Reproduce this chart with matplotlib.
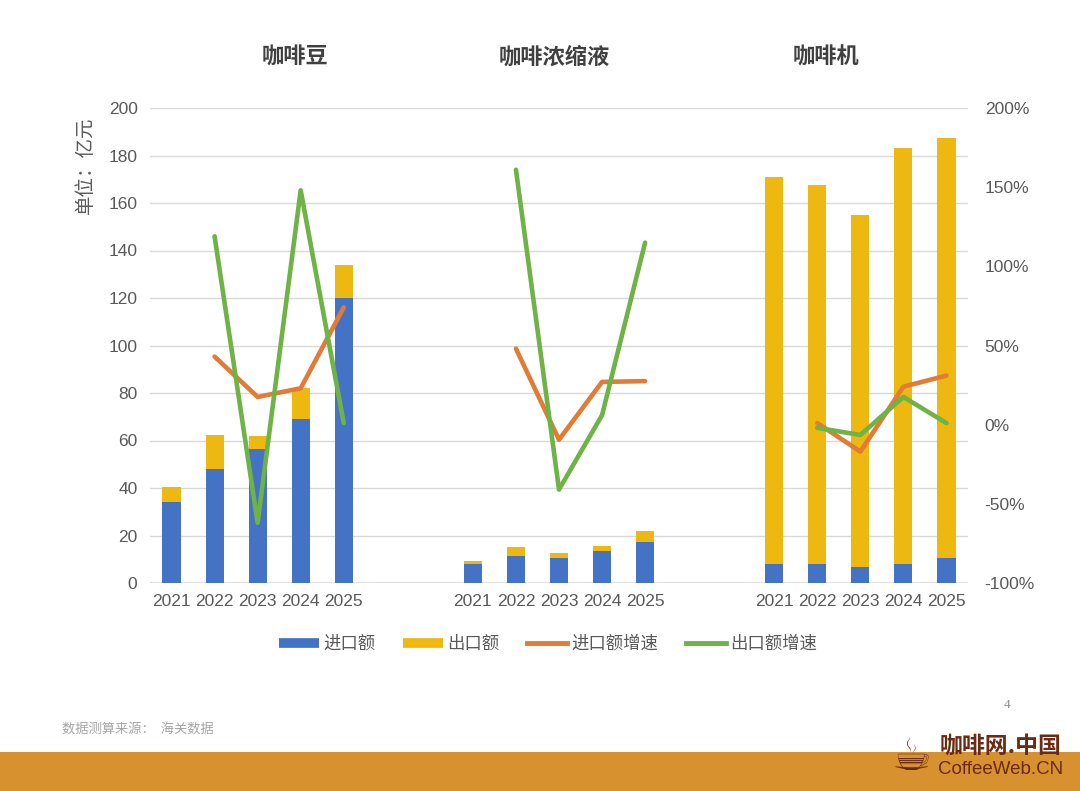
import numpy as np
import matplotlib
matplotlib.use("Agg")
import matplotlib.pyplot as plt
from matplotlib.lines import Line2D
from matplotlib.patches import Rectangle

plt.rcParams['font.family'] = ['Noto Sans CJK SC', 'DejaVu Sans']

years = ['2021', '2022', '2023', '2024', '2025']
groups = ['咖啡豆', '咖啡浓缩液', '咖啡机']

# 亿元
import_beans = [34, 48, 56.5, 69, 120]
export_beans = [6.5, 14.5, 5.5, 13, 14]
import_conc = [7.8, 11.4, 10.5, 13.5, 17.3]
export_conc = [1.5, 3.8, 2.1, 2.1, 4.6]
import_mach = [8, 8, 6.7, 8, 10.7]
export_mach = [163, 159.6, 148.3, 175, 176.7]

# growth, %
imp_growth_beans = [np.nan, 43, 17.5, 23, 74]
exp_growth_beans = [np.nan, 119, -62, 148, 1]
imp_growth_conc = [np.nan, 48, -9.5, 27, 27.5]
exp_growth_conc = [np.nan, 161, -41, 6, 115]
imp_growth_mach = [np.nan, 1, -17, 24, 31]
exp_growth_mach = [np.nan, -2, -6.5, 17.5, 1]

imports = [import_beans, import_conc, import_mach]
exports = [export_beans, export_conc, export_mach]
imp_g = [imp_growth_beans, imp_growth_conc, imp_growth_mach]
exp_g = [exp_growth_beans, exp_growth_conc, exp_growth_mach]

C_BLUE = '#4472C4'
C_GOLD = '#EDB80F'
C_ORANGE = '#E27B36'
C_GREEN = '#6DB346'
TXT = '#595959'

fig = plt.figure(figsize=(10.8, 7.91), dpi=100)
fig.patch.set_facecolor('white')
ax = fig.add_axes([150/1080, 1-583/791, 818/1080, 475/791])
ax2 = ax.twinx()

group_starts = [0, 7, 14]
xticks, xlabels = [], []
for g in range(3):
    xs = np.arange(5) + group_starts[g]
    ax.bar(xs, imports[g], width=0.42, color=C_BLUE, zorder=3)
    ax.bar(xs, exports[g], width=0.42, bottom=imports[g], color=C_GOLD, zorder=3)
    ax2.plot(xs, imp_g[g], color=C_ORANGE, lw=3.3, solid_capstyle='round', zorder=4)
    ax2.plot(xs, exp_g[g], color=C_GREEN, lw=3.3, solid_capstyle='round', zorder=5)
    xticks += list(xs)
    xlabels += years

ax.set_xlim(-0.5, 18.5)
ax.set_ylim(0, 200)
ax.set_yticks(np.arange(0, 201, 20))
ax2.set_ylim(-100, 200)
ax2.set_yticks(np.arange(-100, 201, 50))
ax2.set_yticklabels([f'{v}%' for v in range(-100, 201, 50)])
ax.set_xticks(xticks)
ax.set_xticklabels(xlabels)
ax.grid(axis='y', color='#D9D9D9', lw=1.0, zorder=0)
ax.set_axisbelow(True)
for a in (ax, ax2):
    for s in a.spines.values():
        s.set_visible(False)
    a.tick_params(length=0, labelsize=12.5, labelcolor=TXT)
    for lab in a.get_xticklabels() + a.get_yticklabels():
        lab.set_family(['Liberation Sans', 'DejaVu Sans'])
ax.tick_params(axis='y', pad=9)
ax.tick_params(axis='x', pad=8)
ax2.tick_params(axis='y', pad=12)
ax.axhline(0, color='#D9D9D9', lw=1.2, zorder=1)

# group titles
for name, xc in zip(groups, [295, 554, 826]):
    fig.text(xc/1080, 1-57/791, name, ha='center', va='center', fontsize=16,
             fontweight='bold', color='#404040')

fig.text(85/1080, 1-165/791, '单位：亿元', rotation=90, ha='center', va='center',
         fontsize=14, color=TXT)

handles = [Line2D([], [], color=C_BLUE, lw=7, solid_capstyle='butt'),
           Line2D([], [], color=C_GOLD, lw=7, solid_capstyle='butt'),
           Line2D([], [], color=C_ORANGE, lw=3.5),
           Line2D([], [], color=C_GREEN, lw=3.5)]
fig.legend(handles, ['进口额', '出口额', '进口额增速', '出口额增速'], loc='center',
           bbox_to_anchor=(548/1080, 1-644/791), ncol=4, frameon=False,
           fontsize=12.5, handlelength=2.3, handletextpad=0.25, columnspacing=1.6,
           labelcolor=TXT)

fig.text(62/1080, 1-729/791, '数据测算来源：  海关数据', ha='left', va='center',
         fontsize=9.5, color='#A6A6A6')
fig.text(1007/1080, 1-705/791, '4', ha='center', va='center', fontsize=9.5,
         color='#8C8C8C', family='Liberation Serif')

fig.patches.append(Rectangle((0, 0), 1, 39/791, transform=fig.transFigure,
                             facecolor='#D8912F', edgecolor='none', zorder=0))
fig.text(1001/1080, 1-746/791, '咖啡网.中国', ha='center', va='center', fontsize=16.5,
         fontweight='bold', color='#6B2A12')
fig.text(1001/1080, 1-769/791, 'CoffeeWeb.CN', ha='center', va='center', fontsize=13.5,
         color='#6B2A12', family='Liberation Sans')
fig.text(912/1080, 1-757/791, '\u2615', ha='center', va='center', fontsize=32,
         color='#6B2A12', family='DejaVu Sans')

fig.savefig('out.png', dpi=100, facecolor='white')
